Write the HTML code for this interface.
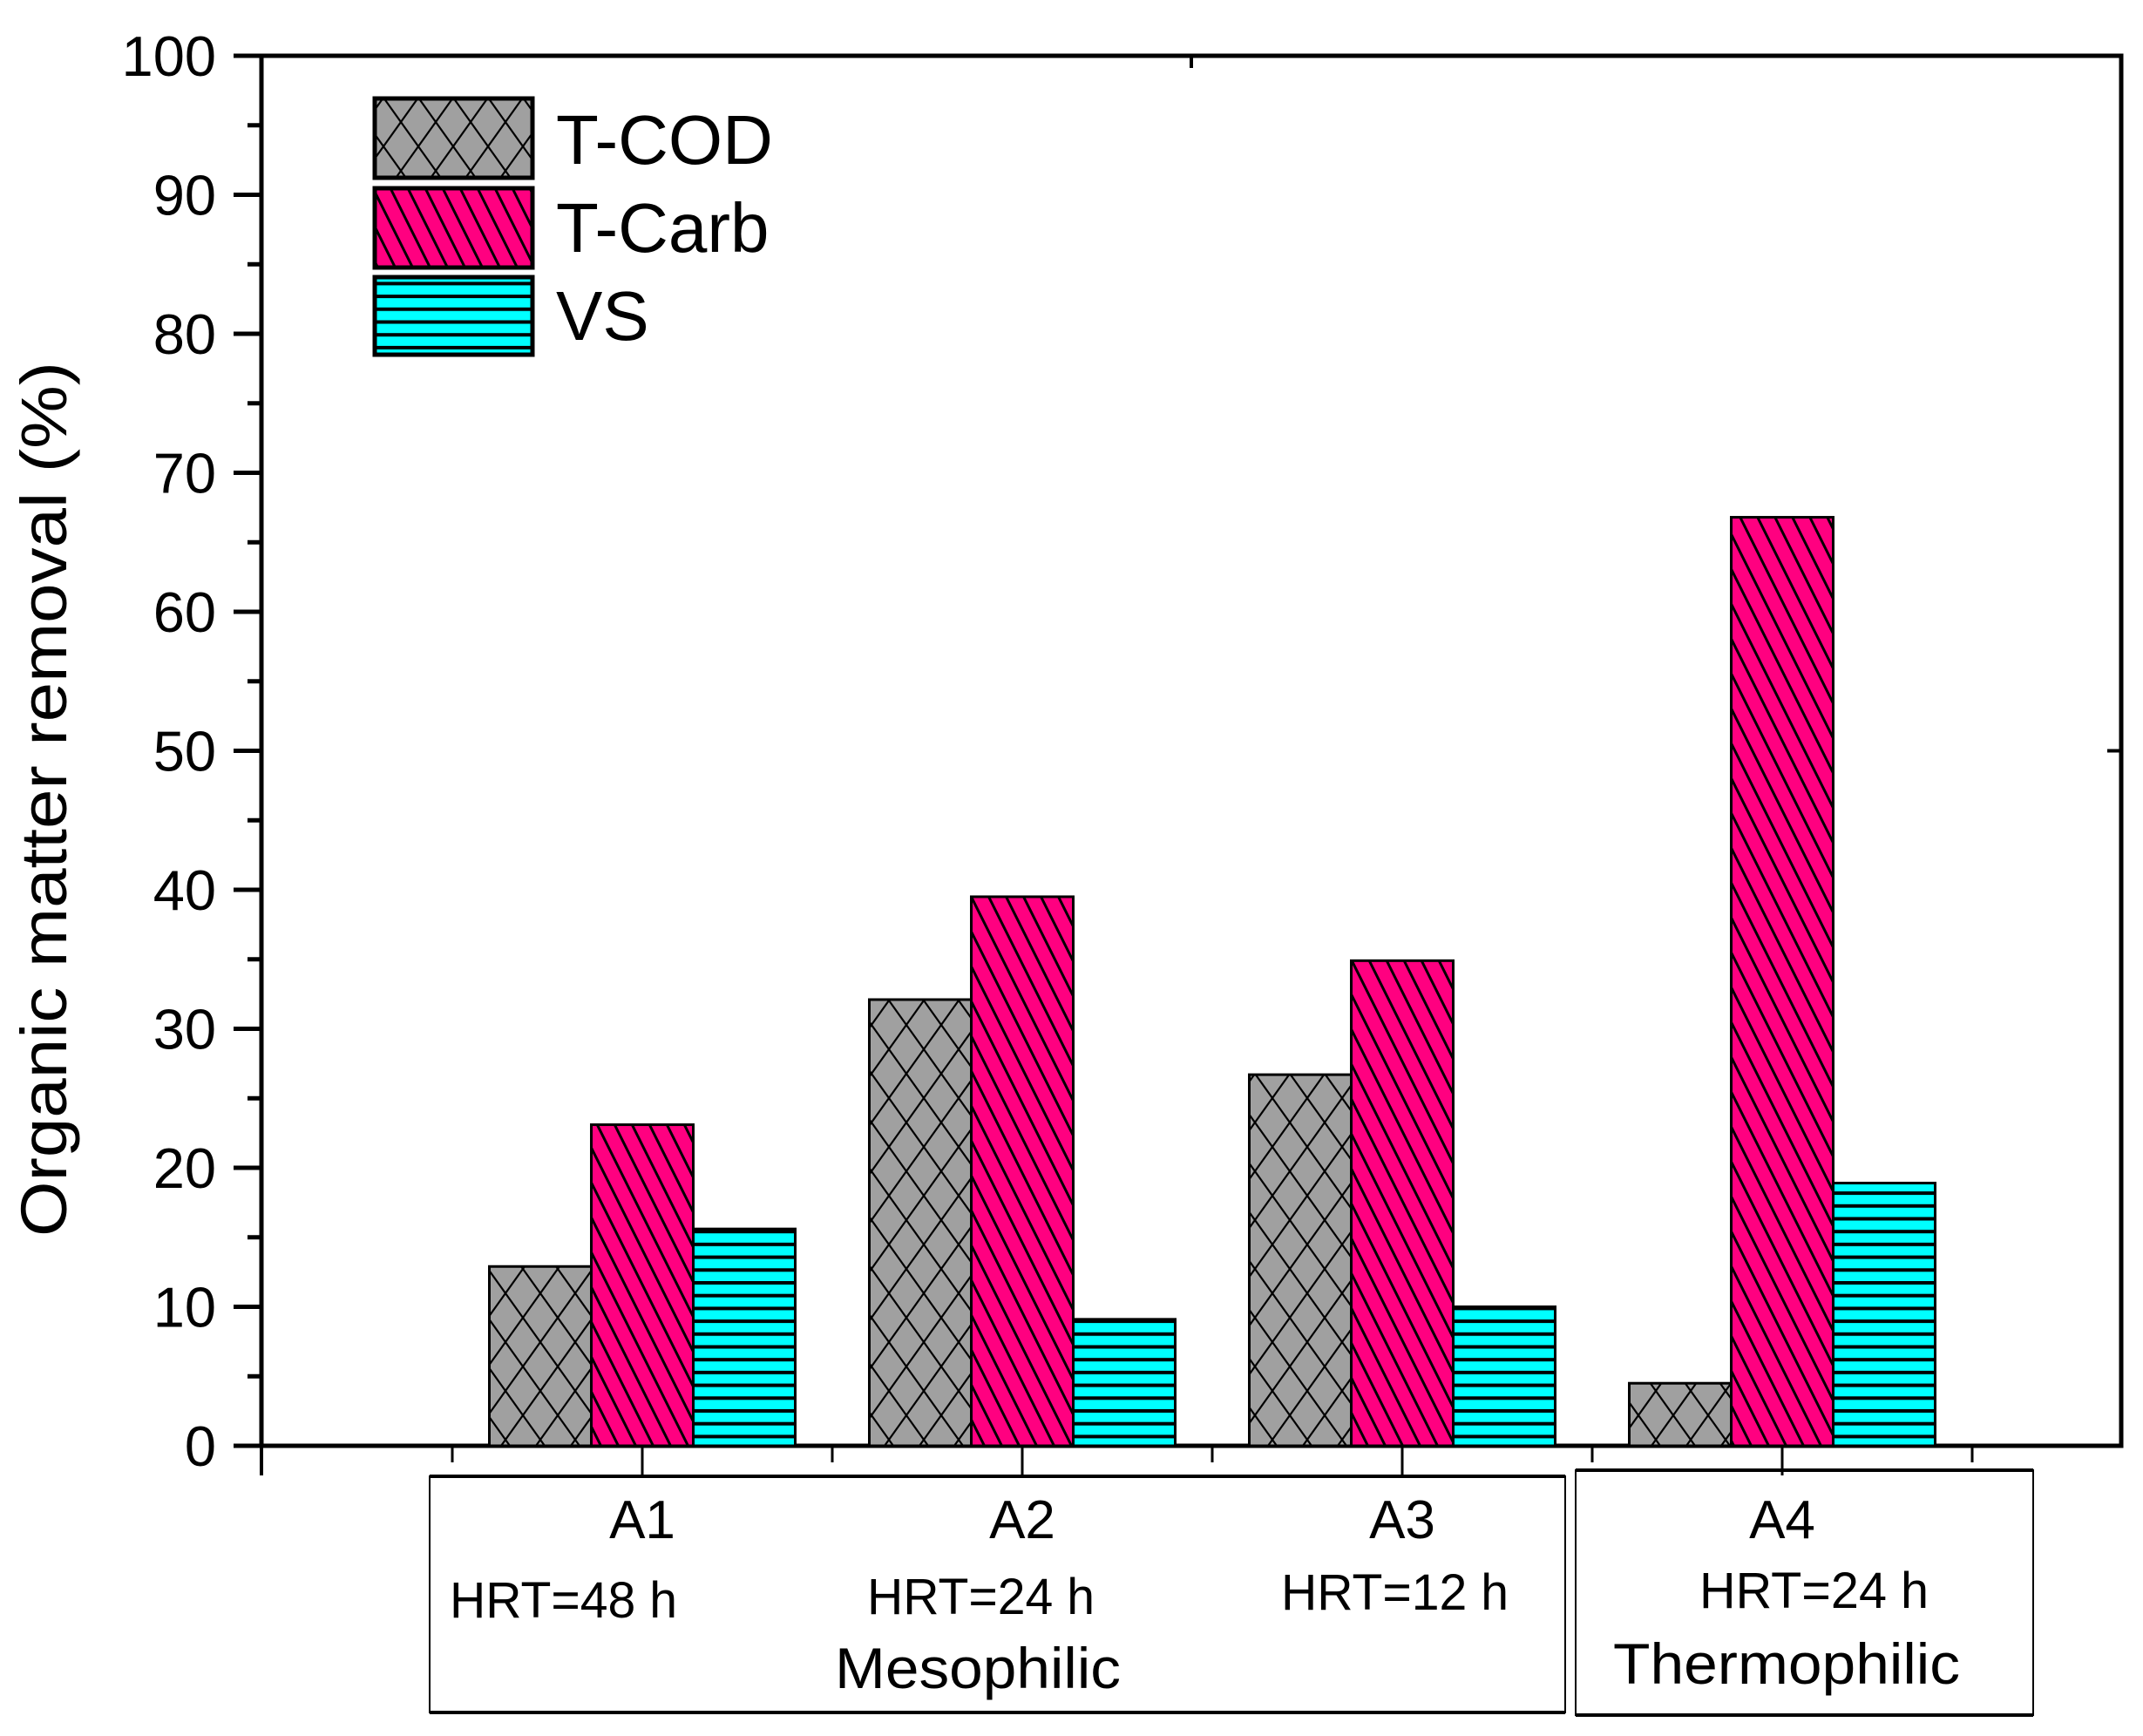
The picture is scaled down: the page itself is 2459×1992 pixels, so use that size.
<!DOCTYPE html>
<html><head><meta charset="utf-8"><style>
html,body{margin:0;padding:0;background:#fff}
svg{display:block}
text{font-family:"Liberation Sans",sans-serif;fill:#000}
</style></head><body>
<svg id="chart" width="2459" height="1992" viewBox="0 0 2459 1992" xmlns="http://www.w3.org/2000/svg">
<defs>
<pattern id="pCross" patternUnits="userSpaceOnUse" width="40" height="56">
<rect width="40" height="56" fill="#a0a0a0"/>
<path d="M0,0 L40,56 M40,0 L0,56" stroke="#000" stroke-width="2.2" fill="none"/>
</pattern>
<pattern id="pDiag" patternUnits="userSpaceOnUse" width="20" height="40">
<rect width="20" height="40" fill="#ff0080"/>
<path d="M-10,-20 L30,60 M-30,-20 L10,60 M10,-20 L50,60" stroke="#000" stroke-width="3" fill="none"/>
</pattern>
<pattern id="pHoriz" patternUnits="userSpaceOnUse" width="20" height="14.7">
<rect width="20" height="14.7" fill="#00ffff"/>
<rect y="0" width="20" height="4" fill="#000"/>
</pattern>
</defs>
<g id="axes"></g>
<g id="bars"></g>
<g id="legend">
<rect x="430" y="113" width="181" height="91" fill="url(#pCross)" stroke="#000" stroke-width="5"/>
<text x="638" y="188" font-size="80">T-COD</text>
<rect x="430" y="216" width="181" height="91" fill="url(#pDiag)" stroke="#000" stroke-width="5"/>
<text x="638" y="289" font-size="80">T-Carb</text>
<rect x="430" y="318" width="181" height="89" fill="url(#pHoriz)" stroke="#000" stroke-width="5"/>
<text x="638" y="390" font-size="80">VS</text>
</g>
<text transform="translate(76,917) rotate(-90)" text-anchor="middle" font-size="74" textLength="1004" lengthAdjust="spacingAndGlyphs">Organic matter removal (%)</text>
<g id="catboxes">
<rect x="493" y="1694" width="1303" height="271" fill="none" stroke="#000" stroke-width="2"/>
<line x1="493" y1="1694" x2="1796" y2="1694" stroke="#000" stroke-width="4"/>
<line x1="493" y1="1965" x2="1796" y2="1965" stroke="#000" stroke-width="4"/>
<rect x="1808" y="1687" width="525" height="281" fill="none" stroke="#000" stroke-width="2"/>
<line x1="1808" y1="1687" x2="2333" y2="1687" stroke="#000" stroke-width="4"/>
<line x1="1808" y1="1968" x2="2333" y2="1968" stroke="#000" stroke-width="4"/>
<text x="516" y="1856" font-size="58" textLength="261" lengthAdjust="spacingAndGlyphs">HRT=48 h</text>
<text x="995" y="1852" font-size="58" textLength="261" lengthAdjust="spacingAndGlyphs">HRT=24 h</text>
<text x="1470" y="1847" font-size="58" textLength="261" lengthAdjust="spacingAndGlyphs">HRT=12 h</text>
<text x="1950" y="1845" font-size="58" textLength="263" lengthAdjust="spacingAndGlyphs">HRT=24 h</text>
<text x="958" y="1937" font-size="66" textLength="328" lengthAdjust="spacingAndGlyphs">Mesophilic</text>
<text x="1851" y="1932" font-size="66" textLength="398" lengthAdjust="spacingAndGlyphs">Thermophilic</text>
</g>
</svg>
<script>
const categories = ["A1","A2","A3","A4"];
const tcod = [12.9, 32.1, 26.7, 4.5];
const tcarb = [23.1, 39.5, 34.9, 66.8];
const vs = [15.6, 9.1, 10.0, 18.9];
const yTicks = [0,10,20,30,40,50,60,70,80,90,100];

const NS = "http://www.w3.org/2000/svg";
const L = 300, R = 2434, T = 64, B = 1659;
const yMin = 0, yMax = 100;
const groupStart = 737, groupStep = 436, barW = 117;
function yS(v){ return B - (v - yMin) / (yMax - yMin) * (B - T); }
function xC(i){ return groupStart + i * groupStep; }
function mk(tag, attrs, parent){ const e = document.createElementNS(NS, tag); for (const k in attrs) e.setAttribute(k, attrs[k]); parent.appendChild(e); return e; }

const axes = document.getElementById('axes');
const bars = document.getElementById('bars');
let fr = mk('rect', {x:L, y:T, width:R-L, height:B-T, fill:'none', stroke:'#000', 'stroke-width':5}, axes);


let ext = mk('line', {x1:L, y1:B, x2:L, y2:1693, stroke:'#000', 'stroke-width':4}, axes);


yTicks.forEach(v => {
  const y = yS(v);
  mk('line', {x1:268, y1:y, x2:L, y2:y, stroke:'#000', 'stroke-width':5}, axes);
  const t = mk('text', {x:248, y:y+23, 'text-anchor':'end', 'font-size':65}, axes);
  t.textContent = v;
  
  
  if (v < yMax) {
    const ym = yS(v + 5);
    mk('line', {x1:284, y1:ym, x2:L, y2:ym, stroke:'#000', 'stroke-width':5}, axes);
  }
});
mk('line', {x1:R, y1:yS(50), x2:R-16, y2:yS(50), stroke:'#000', 'stroke-width':4}, axes);
mk('line', {x1:1367, y1:T, x2:1367, y2:T+14, stroke:'#000', 'stroke-width':4}, axes);
for (let i = 0; i <= categories.length; i++) {
  const xs = xC(i) - groupStep/2;
  mk('line', {x1:xs, y1:B, x2:xs, y2:1678, stroke:'#000', 'stroke-width':3}, axes);
}
categories.forEach((c, i) => {
  mk('line', {x1:xC(i), y1:B, x2:xC(i), y2:1693, stroke:'#000', 'stroke-width':3}, axes);
  const t = mk('text', {x:xC(i), y:1765, 'text-anchor':'middle', 'font-size':62}, axes);
  t.textContent = c;
  
  
});
const series = [[tcod,'url(#pCross)','tcod'],[tcarb,'url(#pDiag)','tcarb'],[vs,'url(#pHoriz)','vs']];
categories.forEach((c, i) => {
  series.forEach((s, j) => {
    const v = s[0][i];
    const x = xC(i) + (j - 1) * barW - barW/2;
    const r = mk('rect', {x:x, y:yS(v), width:barW, height:B - yS(v), fill:s[1], stroke:'#000', 'stroke-width':3}, bars);
    
    
  });
});
</script>
</body></html>
